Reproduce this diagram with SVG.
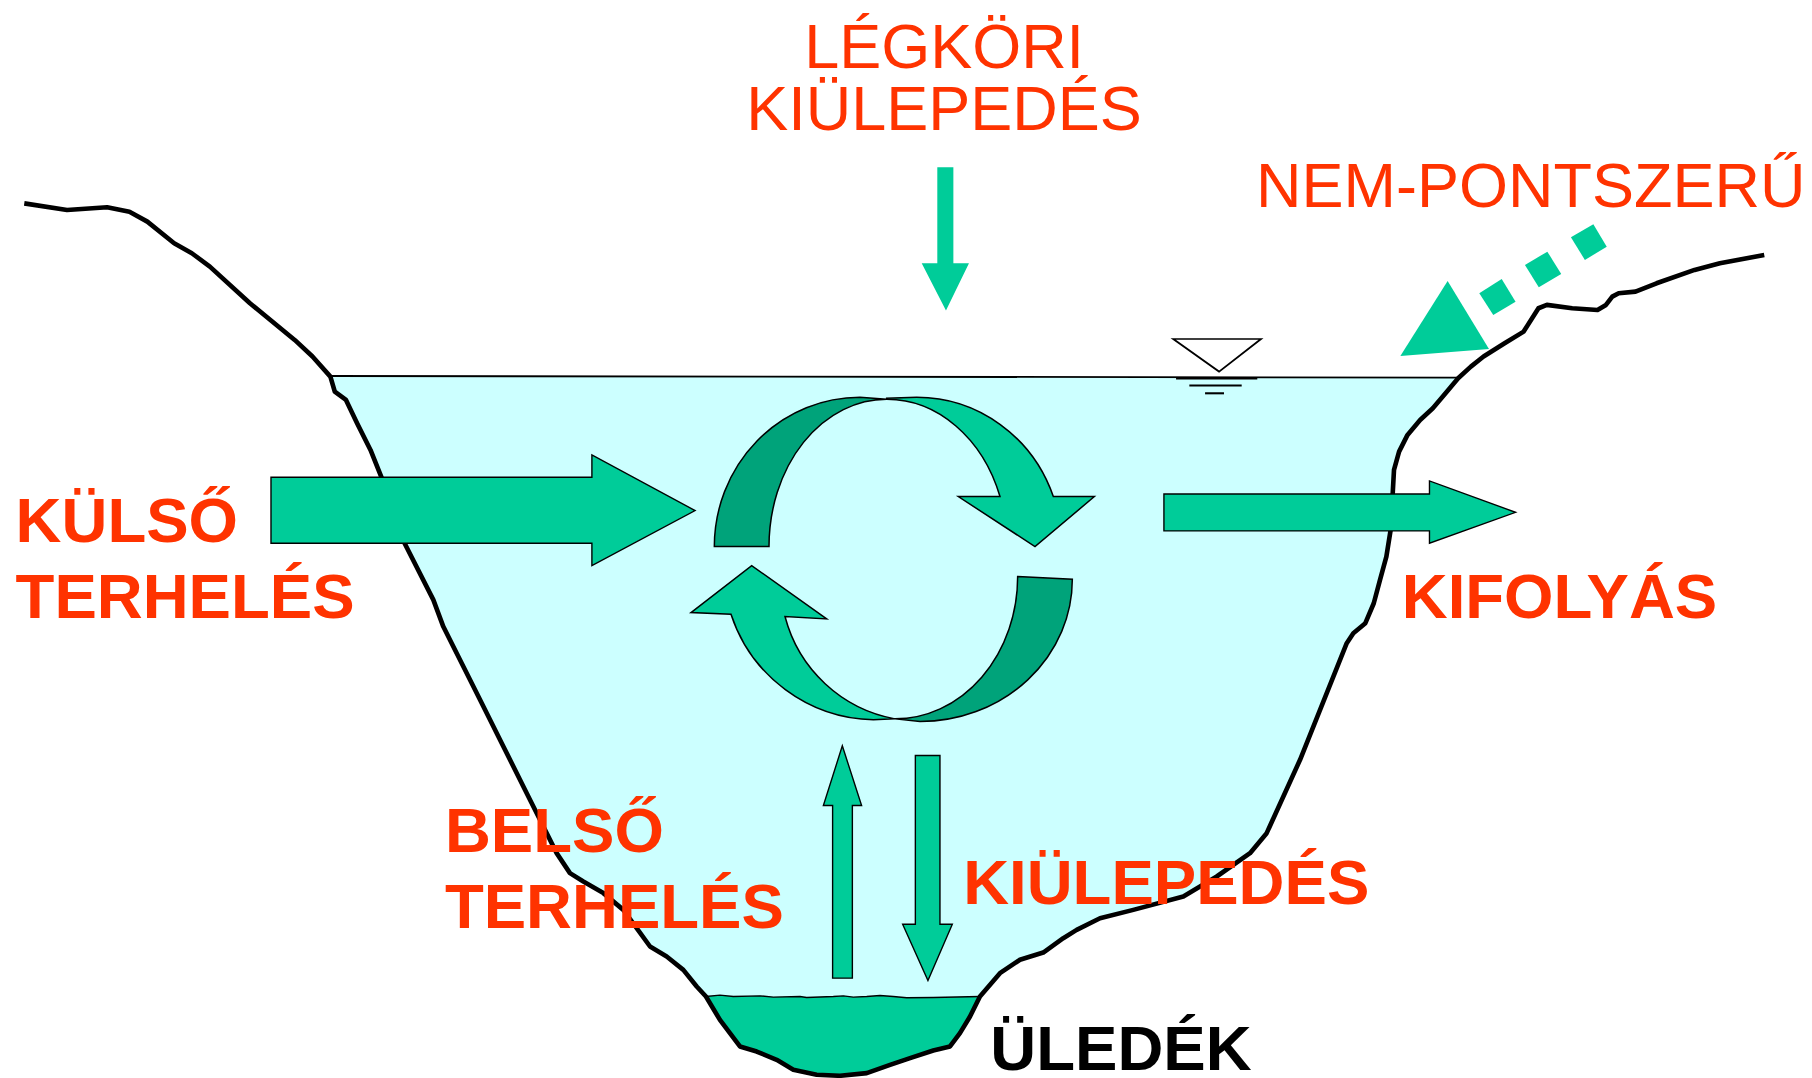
<svg xmlns="http://www.w3.org/2000/svg" width="1812" height="1078" viewBox="0 0 1812 1078">
<style>
.lbl{font-family:"Liberation Sans",Arial,sans-serif;font-size:54.5px;fill:#FF3300}
.b{font-weight:bold;font-size:55px}
.blk{fill:#000000}
.arr{fill:#00CC99;stroke:#000000;stroke-width:1.2;stroke-linejoin:miter}
.dk{fill:#00A37A;stroke:#000000;stroke-width:4.5}
.lt{fill:#00CC99;stroke:#000000;stroke-width:4.5}
.nf{fill:#00CC99;stroke:none}
</style>
<rect width="1812" height="1078" fill="#FFFFFF"/>
<g transform="scale(1.1556,1.1554)">
<g id="water">
<path d="M285.9,325.4 L1261.8,327 L1250.9,340.4 L1239.9,353.4 L1228.9,363.5 L1218,376.4 L1210.7,390.9 L1206.3,406.7 L1205.2,426.9 L1203.4,458.6 L1199.7,481.7 L1194.2,501.9 L1188.8,522.1 L1181.5,539.4 L1171.1,548 L1165.4,556.7 L1125,657.6 L1096.1,721.1 L1081.7,738.4 L1052.9,758.6 L1024,775.9 L980.7,787.5 L951.9,794.7 L931.7,804.8 L920.1,812 L902.8,824.4 L882.6,830.7 L865.3,842.3 L848,862.5 L807.7,863.3 L784.6,863.6 L773,862.5 L761.5,861.6 L750,862.5 L738.4,863 L729.8,861.9 L721.1,862.5 L698,863.3 L692.3,862.5 L669.2,863 L657.7,861.9 L634.6,862.5 L623,861.3 L610.9,862.5 L602.9,853.8 L591.3,839.4 L576.9,827.8 L562.5,819.2 L550,802 L539.4,787.5 L522.1,773 L504.8,763 L493.2,755.7 L481.7,738.4 L470.2,715.3 L455.8,686.5 L435.6,646.1 L415.4,605.7 L395.2,565.4 L383.6,542.3 L375,519.2 L350,470 L332.2,418.3 L320.6,389.4 L309,366.3 L299.4,346.1 L289.7,339 Z" fill="#CCFFFF"/>
</g>
<g id="sediment">
<path d="M610.9,862.5 L623,861.3 L634.6,862.5 L657.7,861.9 L669.2,863 L692.3,862.5 L698,863.3 L721.1,862.5 L729.8,861.9 L738.4,863 L750,862.5 L761.5,861.6 L773,862.5 L784.6,863.6 L807.7,863.3 L848,862.5 L839.4,879.8 L830.7,894.2 L822.1,905.7 L807.6,909.2 L787.5,915.8 L770.2,921.6 L750,928.8 L726.9,931.1 L706.7,930.2 L686.5,925.9 L672.1,917.3 L654.8,910.1 L640.3,905.7 L623,882.7 Z" fill="#00CC99"/>
<polyline points="610.9,862.5 623,861.3 634.6,862.5 657.7,861.9 669.2,863 692.3,862.5 698,863.3 721.1,862.5 729.8,861.9 738.4,863 750,862.5 761.5,861.6 773,862.5 784.6,863.6 807.7,863.3 848,862.5" fill="none" stroke="#000000" stroke-width="1.2"/>
</g>
<g id="bank">
<polyline points="21,176 58,181.7 92.7,179.4 112,183.2 127.5,191.8 150.7,210.6 166,219.2 181.6,230.8 216.3,262.5 255,294.2 270.4,308.6 285.9,326 289.7,339 299.4,346.1 309,366.3 320.6,389.4 332.2,418.3 350,470 375,519.2 383.6,542.3 395.2,565.4 415.4,605.7 435.6,646.1 455.8,686.5 470.2,715.3 481.7,738.4 493.2,755.7 504.8,763 522.1,773 539.4,787.5 550,802 562.5,819.2 576.9,827.8 591.3,839.4 602.9,853.8 610.9,862.5 623,882.7 640.3,905.7 654.8,910.1 672.1,917.3 686.5,925.9 706.7,930.2 726.9,931.1 750,928.8 770.2,921.6 787.5,915.8 807.6,909.2 822.1,905.7 830.7,894.2 839.4,879.8 848,862.5 865.3,842.3 882.6,830.7 902.8,824.4 920.1,812 931.7,804.8 951.9,794.7 980.7,787.5 1024,775.9 1052.9,758.6 1081.7,738.4 1096.1,721.1 1125,657.6 1165.4,556.7 1171.1,548 1181.5,539.4 1188.8,522.1 1194.2,501.9 1199.7,481.7 1203.4,458.6 1205.2,426.9 1206.3,406.7 1210.7,390.9 1218,376.4 1228.9,363.5 1239.9,353.4 1250.9,340.4 1261.8,327.4 1272.8,317.3 1283.8,308.6 1302,297.1 1318.5,287 1325.8,275.5 1331.3,266.8 1338.6,263.9 1360.5,266.8 1382.4,268.3 1389.7,263.9 1395.2,256.7 1400.7,253.8 1415.3,252.4 1433.5,245.2 1466.4,233.6 1488.3,227.9 1526.7,220.7" fill="none" stroke="#000000" stroke-width="4" stroke-linejoin="round" stroke-linecap="butt"/>
<line x1="285.9" y1="325.4" x2="1261.8" y2="326.8" stroke="#000000" stroke-width="1.6"/>
</g>
<g id="water-level">
<polygon points="1015.3,293.4 1091.2,293.4 1054.9,321.6" fill="#FFFFFF" stroke="#000000" stroke-width="1.5"/>
<line x1="1017.7" y1="327.4" x2="1088" y2="327.4" stroke="#000000" stroke-width="2.2"/>
<line x1="1029.2" y1="333.7" x2="1074.5" y2="333.7" stroke="#000000" stroke-width="1.8"/>
<line x1="1042.8" y1="340.4" x2="1059.2" y2="340.4" stroke="#000000" stroke-width="1.8"/>
</g>
<g id="cycle" transform="translate(588.44,328.83) scale(0.28845)">
<path class="lt" d="M620,58 A361,442 0 0,1 960,350 L835,350 L1065,500 L1243,350 L1120,350 A435,448 0 0,0 710,52 L620,55 Z"/>
<path class="dk" d="M103,500 L267,500 A353,442 0 0,1 620,58 L540,52 A437,448 0 0,0 103,500 Z"/>
<path class="lt" d="M645,1017 A420,420 0 0,1 315,710 L440,717 L215,557 L33,698 L153,703 A460,460 0 0,0 580,1020 Z"/>
<path class="dk" d="M1013,590 L1177,598 A457,427 0 0,1 720,1025 L645,1017 A368,427 0 0,0 1013,590 Z"/>
</g>
<g id="connectors">
<polygon id="arrow-kulso" class="arr" points="234.5,413.1 512.2,413.1 512.2,393.7 601.5,441.9 512.2,489.5 512.2,470.2 234.5,470.2"/>
<polygon id="arrow-kifolyas" class="arr" points="1007.2,427.5 1237,427.5 1237,416.2 1311.5,443.4 1237,470.2 1237,459.5 1007.2,459.5"/>
<polygon id="arrow-legkori" class="nf" points="811.1,144.8 825,144.8 825,227.9 838.5,227.9 818.6,268.8 797.6,227.9 811.1,227.9"/>
<g id="arrow-nempontszeru" class="nf">
<polygon points="1252.7,243.2 1288.5,302 1211.8,308.1"/>
<polygon points="1280.1,253.8 1299.5,241.4 1311.5,261.1 1292.2,272.6"/>
<polygon points="1319.6,229.3 1339,217.8 1351,237.1 1331.6,248.6"/>
<polygon points="1359.4,205.4 1378.8,194.1 1390.4,213.5 1371.5,225"/>
</g>
<polygon id="arrow-belso" class="arr" points="728.9,645.5 745.6,697.2 737.6,697.2 737.6,846.6 720.5,846.6 720.5,697.2 712.5,697.2"/>
<polygon id="arrow-kiulepedes" class="arr" points="792.1,653.9 813.4,653.9 813.4,799.9 824.1,799.9 803,848.6 781.1,799.9 792.1,799.9"/>
</g>
<g id="label-legkori"><text class="lbl" x="817" y="59" text-anchor="middle">LÉGKÖRI</text><text class="lbl" x="817" y="112.5" text-anchor="middle">KIÜLEPEDÉS</text></g>
<g id="label-nempontszeru"><text class="lbl" x="1087" y="179.4">NEM-PONTSZERŰ</text></g>
<g id="label-kulso"><text class="lbl b" x="13.5" y="468.7">KÜLSŐ</text><text class="lbl b" x="13.5" y="534.5">TERHELÉS</text></g>
<g id="label-kifolyas"><text class="lbl b" x="1213" y="534.5">KIFOLYÁS</text></g>
<g id="label-belso"><text class="lbl b" x="385" y="737">BELSŐ</text><text class="lbl b" x="385" y="803">TERHELÉS</text></g>
<g id="label-kiulepedes"><text class="lbl b" x="833.5" y="782.3">KIÜLEPEDÉS</text></g>
<g id="label-uledek"><text class="lbl b blk" x="857" y="926">ÜLEDÉK</text></g>
</g>
</svg>
